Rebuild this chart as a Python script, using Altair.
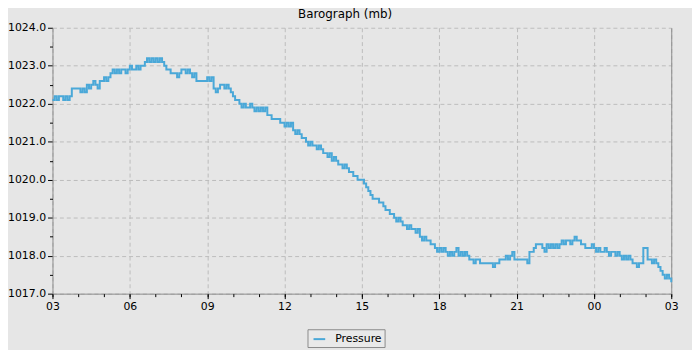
import altair as alt
import pandas as pd

# Pressure (mb), 5-minute samples
p_03_09 = [
    1022.1, 1022.2, 1022.1, 1022.2, 1022.2, 1022.1, 1022.2, 1022.1, 1022.2, 1022.4, 1022.4, 1022.4,
    1022.4, 1022.3, 1022.4, 1022.3, 1022.5, 1022.4, 1022.5, 1022.6, 1022.5, 1022.4, 1022.6, 1022.6,
    1022.7, 1022.6, 1022.7, 1022.8, 1022.9, 1022.8, 1022.9, 1022.8, 1022.9, 1022.9, 1022.8, 1022.9,
    1023.0, 1022.9, 1022.9, 1023.0, 1022.9, 1023.0, 1023.0, 1023.1, 1023.2, 1023.1, 1023.2, 1023.1,
    1023.2, 1023.1, 1023.2, 1023.1, 1023.0, 1022.9, 1022.9, 1022.8, 1022.8, 1022.8, 1022.7, 1022.8,
    1022.9, 1022.9, 1022.8, 1022.9, 1022.8, 1022.7, 1022.8, 1022.6, 1022.6, 1022.6, 1022.6, 1022.6,
]
p_09_15 = [
    1022.7, 1022.6, 1022.7, 1022.4, 1022.3, 1022.4, 1022.5, 1022.5, 1022.4, 1022.5, 1022.4, 1022.3,
    1022.2, 1022.1, 1022.1, 1022.0, 1021.9, 1022.0, 1021.9, 1021.9, 1022.0, 1021.9, 1021.8, 1021.9,
    1021.8, 1021.9, 1021.8, 1021.9, 1021.7, 1021.7, 1021.6, 1021.6, 1021.6, 1021.6, 1021.5, 1021.5,
    1021.4, 1021.5, 1021.4, 1021.5, 1021.3, 1021.2, 1021.3, 1021.2, 1021.1, 1021.1, 1021.0, 1020.9,
    1021.0, 1020.9, 1020.9, 1020.8, 1020.9, 1020.8, 1020.7, 1020.7, 1020.6, 1020.7, 1020.5, 1020.6,
    1020.5, 1020.4, 1020.4, 1020.3, 1020.4, 1020.3, 1020.2, 1020.2, 1020.1, 1020.1, 1020.0, 1020.0,
]
p_15_21 = [
    1020.0, 1019.9, 1019.8, 1019.7, 1019.6, 1019.5, 1019.5, 1019.5, 1019.4, 1019.4, 1019.3, 1019.2,
    1019.2, 1019.1, 1019.1, 1019.0, 1018.9, 1019.0, 1018.9, 1018.8, 1018.8, 1018.7, 1018.8, 1018.7,
    1018.7, 1018.6, 1018.7, 1018.5, 1018.4, 1018.5, 1018.4, 1018.4, 1018.3, 1018.3, 1018.2, 1018.1,
    1018.2, 1018.1, 1018.2, 1018.1, 1018.0, 1018.1, 1018.0, 1018.1, 1018.2, 1018.0, 1018.1, 1018.0,
    1018.1, 1018.0, 1017.9, 1017.9, 1017.8, 1017.9, 1017.9, 1017.8, 1017.8, 1017.8, 1017.8, 1017.8,
    1017.8, 1017.7, 1017.8, 1017.8, 1017.9, 1017.9, 1017.9, 1018.0, 1017.9, 1018.0, 1018.1, 1017.9,
]
p_21_03 = [
    1017.9, 1017.9, 1017.9, 1017.9, 1017.9, 1017.8, 1018.1, 1018.1, 1018.2, 1018.3, 1018.3, 1018.3,
    1018.2, 1018.1, 1018.3, 1018.2, 1018.3, 1018.2, 1018.3, 1018.2, 1018.3, 1018.4, 1018.3, 1018.4,
    1018.4, 1018.3, 1018.4, 1018.5, 1018.4, 1018.4, 1018.3, 1018.3, 1018.2, 1018.2, 1018.2, 1018.3,
    1018.2, 1018.1, 1018.2, 1018.1, 1018.1, 1018.2, 1018.1, 1018.0, 1018.1, 1018.1, 1018.0, 1018.1,
    1018.0, 1017.9, 1018.0, 1017.9, 1018.0, 1017.9, 1017.8, 1017.8, 1017.7, 1017.8, 1017.8, 1018.2,
    1018.2, 1017.9, 1017.9, 1017.8, 1017.9, 1017.8, 1017.7, 1017.6, 1017.5, 1017.4, 1017.5, 1017.4,
]
p_end = [1017.3]

pressure = p_03_09 + p_09_15 + p_15_21 + p_21_03 + p_end
times = pd.date_range("2024-01-01 03:00", periods=len(pressure), freq="5min").strftime("%Y-%m-%dT%H:%M:%S")
df = pd.DataFrame({"time": list(times), "pressure": pressure, "series": "Pressure"})

y_major = [1017, 1018, 1019, 1020, 1021, 1022, 1023, 1024]
y_minor = [1017.5, 1018.5, 1019.5, 1020.5, 1021.5, 1022.5, 1023.5]


def dt(day, h):
    return alt.DateTime(year=2024, month=1, date=day, hours=h)


x_major = [dt(1, h) for h in (3, 6, 9, 12, 15, 18, 21)] + [dt(2, 0), dt(2, 3)]
x_minor = [dt(1, h) for h in range(3, 24)] + [dt(2, h) for h in range(0, 4)]

xscale = alt.Scale(domain=[dt(1, 3), dt(2, 3)], nice=False)
yscale = alt.Scale(domain=[1017, 1024], nice=False, zero=False)

FONT = "DejaVu Sans"
BLUE = "#4aa8d8"
GRID = "#bcbcbc"
DOMAIN = "#8c8c8c"

line = alt.Chart(df).mark_line(interpolate="step-after", strokeWidth=2).encode(
    x=alt.X("time:T", scale=xscale, title=None,
            axis=alt.Axis(values=x_major, format="%H", orient="bottom", grid=True,
                          gridDash=[4, 3], gridColor=GRID, gridWidth=1,
                          tickSize=5, tickColor="black", domainColor=DOMAIN,
                          labelFont=FONT, labelFontSize=11, labelColor="black",
                          labelPadding=2, labelFlush=False, labelOverlap=False,
                          labelBound=False)),
    y=alt.Y("pressure:Q", scale=yscale, title=None,
            axis=alt.Axis(values=y_major, format=".1f", orient="left", grid=True,
                          gridDash=[4, 3], gridColor=GRID, gridWidth=1,
                          tickSize=5, tickColor="black", domainColor=DOMAIN,
                          labelFont=FONT, labelFontSize=11, labelColor="black",
                          labelPadding=2, labelOverlap=False)),
    color=alt.Color("series:N", scale=alt.Scale(domain=["Pressure"], range=[BLUE]),
                    legend=alt.Legend(title=None, orient="none", legendX=258, legendY=305,
                                      direction="horizontal", strokeColor="#8a8a8a",
                                      fillColor="#e9e9e9", padding=3, symbolType="stroke",
                                      symbolStrokeWidth=2, symbolSize=140, symbolOffset=2,
                                      labelFont=FONT, labelFontSize=11, labelColor="black",
                                      labelOffset=9, labelExpr="datum.label + '  '")),
)

minor = alt.Chart(df).mark_line(opacity=0).encode(
    x=alt.X("time:T", scale=xscale, title=None,
            axis=alt.Axis(values=x_minor, labels=False, orient="bottom", grid=False,
                          domain=False, tickSize=3, tickColor="black")),
    y=alt.Y("pressure:Q", scale=yscale, title=None,
            axis=alt.Axis(values=y_minor, labels=False, orient="left", grid=False,
                          domain=False, tickSize=3, tickColor="black")),
)

right = alt.Chart(df).mark_line(opacity=0).encode(
    x=alt.X("time:T", scale=xscale, axis=None),
    y=alt.Y("pressure:Q", scale=yscale, title=None,
            axis=alt.Axis(orient="right", labels=False, ticks=False, grid=False,
                          domainColor=DOMAIN)),
)

chart = alt.layer(line, minor, right).resolve_axis(x="independent", y="independent").properties(
    width=626,
    height=269,
    padding={"left": 45, "top": 18, "right": 21, "bottom": 55},
    autosize=alt.AutoSizeParams(type="none"),
    title=alt.TitleParams("Barograph (mb)", font=FONT, fontSize=12, fontWeight="normal",
                          color="black", anchor="middle", frame="group", offset=1, dx=-17),
).configure(background="#e6e6e6").configure_view(stroke=None)

chart.save("out.html", embed_options={"renderer": "svg", "actions": False})
